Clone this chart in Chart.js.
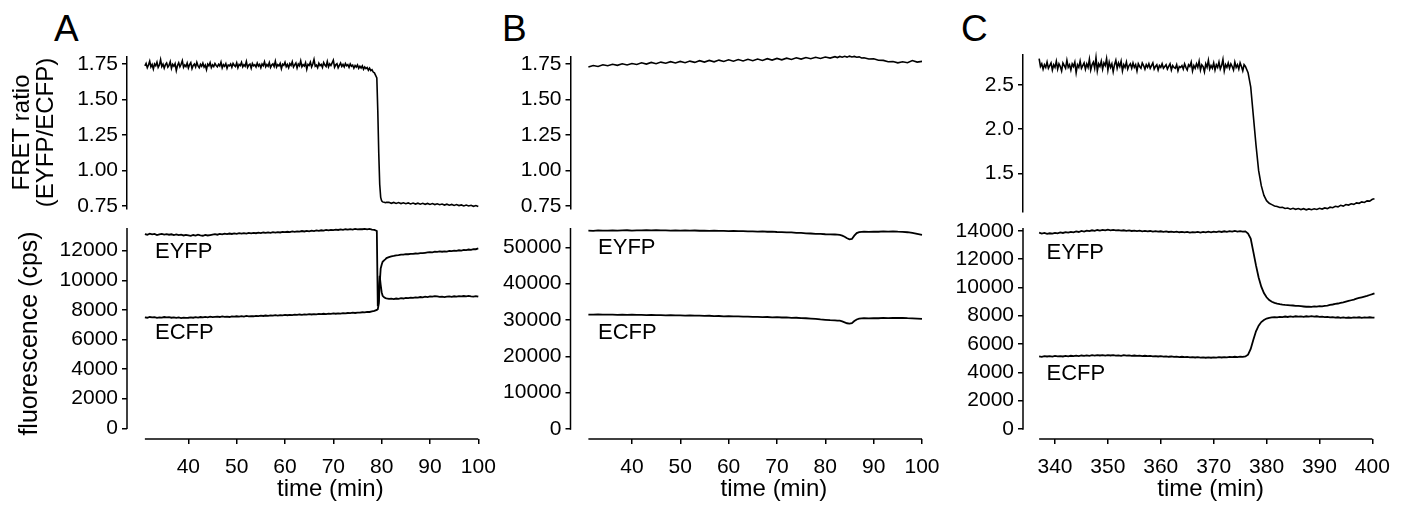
<!DOCTYPE html>
<html>
<head>
<meta charset="utf-8">
<script src="https://cdn.jsdelivr.net/npm/chart.js@4.4.0/dist/chart.umd.min.js"></script>
<style>
body{margin:0;background:#fff;width:1405px;height:506px;position:relative;overflow:hidden;font-family:"Liberation Sans",Arial,sans-serif}
canvas{position:absolute}
.panel{position:absolute;font-size:37px;line-height:37px;color:#000}
</style>
</head>
<body>
<div class="panel" style="left:54px;top:10px">A</div>
<div class="panel" style="left:502px;top:10px">B</div>
<div class="panel" style="left:961px;top:10px">C</div>

<canvas id="aTop" width="500" height="175" style="left:0px;top:45px"></canvas>
<canvas id="aBot" width="500" height="291" style="left:0px;top:215px"></canvas>
<canvas id="bTop" width="464" height="175" style="left:480px;top:45px"></canvas>
<canvas id="bBot" width="464" height="291" style="left:480px;top:215px"></canvas>
<canvas id="cTop" width="465" height="175" style="left:940px;top:45px"></canvas>
<canvas id="cBot" width="465" height="291" style="left:940px;top:215px"></canvas>

<script>
// panel A, FRET ratio (time in min)
var tRatioA=[31,31.25,31.5,31.75,32,32.25,32.5,32.75,33,33.25,33.5,33.75,
34,34.25,34.5,34.75,35,35.25,35.5,35.75,36,36.25,36.5,36.75,
37,37.25,37.5,37.75,38,38.25,38.5,38.75,39,39.25,39.5,39.75,
40,40.25,40.5,40.75,41,41.25,41.5,41.75,42,42.25,42.5,42.75,
43,43.25,43.5,43.75,44,44.25,44.5,44.75,45,45.25,45.5,45.75,
46,46.25,46.5,46.75,47,47.25,47.5,47.75,48,48.25,48.5,48.75,
49,49.25,49.5,49.75,50,50.25,50.5,50.75,51,51.25,51.5,51.75,
52,52.25,52.5,52.75,53,53.25,53.5,53.75,54,54.25,54.5,54.75,
55,55.25,55.5,55.75,56,56.25,56.5,56.75,57,57.25,57.5,57.75,
58,58.25,58.5,58.75,59,59.25,59.5,59.75,60,60.25,60.5,60.75,
61,61.25,61.5,61.75,62,62.25,62.5,62.75,63,63.25,63.5,63.75,
64,64.25,64.5,64.75,65,65.25,65.5,65.75,66,66.25,66.5,66.75,
67,67.25,67.5,67.75,68,68.25,68.5,68.75,69,69.25,69.5,69.75,
70,70.25,70.5,70.75,71,71.25,71.5,71.75,72,72.25,72.5,72.75,
73,73.25,73.5,73.75,74,74.25,74.5,74.75,75,75.25,75.5,75.75,
76,76.25,76.5,76.75,77,77.25,77.5,77.75,78,78.25,78.5,78.75,
79,79.2,79.4,79.6,79.8,80,80.2,80.5,80.8,81,
81.5,82,82.5,83,83.5,84,84.5,85,85.5,86,
86.5,87,87.5,88,88.5,89,89.5,90,90.5,91,
91.5,92,92.5,93,93.5,94,94.5,95,95.5,96,
96.5,97,97.5,98,98.5,99,99.5,100]
var ratioA=[1.735,1.752,1.722,1.741,1.768,1.728,1.745,1.713,1.749,1.737,1.762,1.724,
1.741,1.779,1.731,1.748,1.719,1.744,1.756,1.727,1.739,1.765,1.718,1.746,
1.733,1.751,1.702,1.738,1.757,1.729,1.747,1.772,1.725,1.742,1.731,1.755,
1.721,1.744,1.758,1.716,1.739,1.749,1.728,1.761,1.735,1.722,1.746,1.733,
1.754,1.727,1.741,1.709,1.748,1.736,1.758,1.724,1.743,1.731,1.752,1.738,
1.729,1.747,1.735,1.762,1.721,1.744,1.733,1.751,1.718,1.742,1.736,1.749,
1.726,1.753,1.739,1.731,1.757,1.722,1.745,1.737,1.76,1.728,1.744,1.733,
1.766,1.725,1.741,1.748,1.719,1.752,1.736,1.743,1.728,1.755,1.734,1.746,
1.722,1.749,1.737,1.764,1.729,1.745,1.733,1.758,1.724,1.741,1.75,1.731,
1.768,1.727,1.744,1.735,1.753,1.716,1.747,1.739,1.761,1.73,1.745,1.722,
1.751,1.738,1.764,1.727,1.743,1.756,1.721,1.748,1.736,1.771,1.729,1.744,
1.735,1.758,1.712,1.746,1.739,1.762,1.728,1.749,1.781,1.733,1.741,1.723,
1.754,1.737,1.746,1.725,1.759,1.741,1.731,1.766,1.728,1.749,1.738,1.757,
1.776,1.726,1.743,1.751,1.722,1.739,1.755,1.731,1.745,1.728,1.752,1.736,
1.744,1.725,1.749,1.733,1.741,1.719,1.738,1.727,1.742,1.718,1.733,1.721,
1.735,1.712,1.728,1.716,1.724,1.705,1.719,1.702,1.708,1.692,1.686,1.668,
1.65,1.42,1.12,0.90,0.81,0.785,0.778,0.775,0.772,0.775,
0.776,0.768,0.774,0.767,0.773,0.766,0.772,0.765,0.771,0.764,
0.770,0.763,0.769,0.762,0.768,0.761,0.767,0.760,0.766,0.759,
0.765,0.758,0.763,0.756,0.762,0.755,0.760,0.753,0.759,0.752,
0.757,0.750,0.756,0.749,0.754,0.747,0.752,0.745]

// panel A, fluorescence (cps)
var tA=[31,31.5,32,32.5,33,33.5,34,34.5,35,35.5,
36,36.5,37,37.5,38,38.5,39,39.5,40,40.5,
41,41.5,42,42.5,43,43.5,44,44.5,45,45.5,
46,46.5,47,47.5,48,48.5,49,49.5,50,50.5,
51,51.5,52,52.5,53,53.5,54,54.5,55,55.5,
56,56.5,57,57.5,58,58.5,59,59.5,60,60.5,
61,61.5,62,62.5,63,63.5,64,64.5,65,65.5,
66,66.5,67,67.5,68,68.5,69,69.5,70,70.5,
71,71.5,72,72.5,73,73.5,74,74.5,75,75.5,
76,76.5,77,77.5,78,78.5,79,
79.2,79.4,79.6,79.8,80,80.2,80.5,80.8,81,
81.5,82,82.5,83,83.5,84,84.5,85,85.5,86,
86.5,87,87.5,88,88.5,89,89.5,90,90.5,91,
91.5,92,92.5,93,93.5,94,94.5,95,95.5,96,
96.5,97,97.5,98,98.5,99,99.5,100]
var eyfpA=[13120,13080,13150,13100,13130,13060,13110,13140,13090,13120,
13080,13110,13060,13100,13050,13080,13030,13070,13040,13000,
13060,13020,13080,13040,13010,13070,13030,13060,13090,13120,
13080,13130,13100,13150,13120,13160,13130,13170,13140,13180,
13150,13190,13160,13200,13170,13210,13180,13220,13190,13230,
13200,13240,13210,13250,13220,13260,13230,13270,13250,13280,
13260,13300,13270,13310,13290,13330,13300,13340,13310,13350,
13330,13370,13340,13380,13360,13400,13370,13410,13390,13420,
13400,13440,13410,13450,13420,13460,13430,13470,13440,13460,
13450,13480,13440,13470,13430,13400,13330,
8250,8600,10300,9700,9200,8950,8850,8800,8780,
8740,8760,8730,8770,8750,8790,8770,8810,8790,8830,
8810,8850,8830,8870,8850,8890,8870,8910,8900,8930,
8910,8880,8900,8870,8890,8910,8880,8920,8900,8930,
8910,8940,8920,8950,8920,8900,8930,8890]
var ecfpA=[7500,7470,7520,7490,7510,7460,7500,7480,7520,7490,
7510,7470,7500,7460,7490,7450,7480,7460,7470,7500,
7470,7510,7480,7520,7490,7530,7500,7540,7510,7530,
7550,7520,7560,7530,7550,7520,7560,7540,7570,7550,
7580,7550,7590,7560,7580,7570,7600,7580,7610,7590,
7620,7600,7630,7610,7640,7620,7650,7630,7660,7640,
7670,7650,7680,7660,7690,7670,7700,7680,7710,7690,
7720,7700,7730,7710,7740,7720,7750,7730,7760,7740,
7770,7750,7780,7760,7790,7780,7810,7790,7820,7810,
7840,7830,7870,7860,7900,7930,8000,
8050,8400,9800,10800,11050,11250,11350,11430,11500,
11560,11620,11650,11690,11700,11740,11730,11770,11760,11790,
11780,11810,11800,11840,11830,11860,11880,11900,11890,11930,
11920,11950,11930,11960,11940,11980,11970,12000,11990,12030,
12010,12050,12040,12080,12060,12110,12100,12150]

// panel B
var tB=[31,32,33,34,35,36,37,38,39,40,
41,42,43,44,45,46,47,48,49,50,
51,52,53,54,55,56,57,58,59,60,
61,62,63,64,65,66,67,68,69,70,
71,72,73,74,75,76,77,78,79,80,
81,82,82.5,83,83.5,84,84.5,85,85.5,86,
86.5,87,87.5,88,89,90,91,92,93,94,
95,96,97,98,99,100]
var ratioB=[1.728,1.738,1.731,1.743,1.736,1.747,1.739,1.750,1.742,1.752,
1.745,1.757,1.748,1.760,1.751,1.762,1.754,1.765,1.756,1.767,
1.758,1.769,1.760,1.772,1.762,1.774,1.764,1.776,1.766,1.778,
1.768,1.780,1.770,1.782,1.772,1.784,1.774,1.786,1.776,1.788,
1.778,1.790,1.781,1.792,1.783,1.794,1.786,1.796,1.788,1.798,
1.790,1.800,1.794,1.802,1.796,1.803,1.797,1.804,1.798,1.802,
1.796,1.799,1.791,1.793,1.784,1.786,1.775,1.774,1.764,1.766,
1.757,1.764,1.758,1.773,1.762,1.767]
var eyfpB=[54600,54550,54650,54580,54620,54680,54600,54650,54700,54620,
54680,54640,54700,54660,54720,54650,54680,54620,54660,54600,
54640,54580,54620,54560,54600,54540,54580,54500,54540,54480,
54500,54440,54460,54380,54400,54340,54360,54280,54300,54220,
54200,54120,54100,53980,53950,53850,53800,53700,53720,53600,
53560,53520,53480,53400,53200,52900,52500,52200,52300,53200,
53900,54150,54250,54300,54250,54320,54280,54380,54340,54400,
54300,54250,54150,53950,53700,53450]
var ecfpB=[31500,31470,31520,31480,31450,31500,31430,31470,31400,31440,
31380,31420,31350,31390,31320,31360,31290,31330,31250,31280,
31220,31250,31180,31200,31140,31160,31080,31100,31020,31050,
30980,31000,30920,30940,30860,30880,30800,30820,30740,30760,
30680,30700,30600,30620,30500,30480,30380,30300,30150,30050,
29950,29900,29850,29800,29600,29350,29100,29000,29150,29700,
30150,30400,30450,30500,30450,30520,30480,30560,30520,30600,
30550,30580,30500,30450,30380,30300]

// panel C, FRET ratio
var tRatioC=[337,337.25,337.5,337.75,338,338.25,338.5,338.75,339,339.25,339.5,339.75,
340,340.25,340.5,340.75,341,341.25,341.5,341.75,342,342.25,342.5,342.75,
343,343.25,343.5,343.75,344,344.25,344.5,344.75,345,345.25,345.5,345.75,
346,346.25,346.5,346.75,347,347.25,347.5,347.75,348,348.25,348.5,348.75,
349,349.25,349.5,349.75,350,350.25,350.5,350.75,351,351.25,351.5,351.75,
352,352.25,352.5,352.75,353,353.25,353.5,353.75,354,354.25,354.5,354.75,
355,355.25,355.5,355.75,356,356.25,356.5,356.75,357,357.25,357.5,357.75,
358,358.25,358.5,358.75,359,359.25,359.5,359.75,360,360.25,360.5,360.75,
361,361.25,361.5,361.75,362,362.25,362.5,362.75,363,363.25,363.5,363.75,
364,364.25,364.5,364.75,365,365.25,365.5,365.75,366,366.25,366.5,366.75,
367,367.25,367.5,367.75,368,368.25,368.5,368.75,369,369.25,369.5,369.75,
370,370.25,370.5,370.75,371,371.25,371.5,371.75,372,372.25,372.5,372.75,
373,373.25,373.5,373.75,374,374.25,374.5,374.75,375,375.25,375.5,375.75,
376,376.5,377,377.5,378,378.5,379,379.5,380,380.5,381,381.5,
382,382.5,383,383.5,384,384.5,385,385.5,386,386.5,
387,387.5,388,388.5,389,389.5,390,390.5,391,391.5,
392,392.5,393,393.5,394,394.5,395,395.5,396,396.5,
397,397.5,398,398.5,399,399.5,400,400.4]
var ratioC=[2.80,2.71,2.74,2.68,2.73,2.70,2.76,2.69,2.72,2.75,2.67,2.73,
2.70,2.77,2.68,2.74,2.71,2.66,2.75,2.72,2.69,2.78,2.70,2.73,
2.67,2.74,2.71,2.76,2.64,2.73,2.70,2.77,2.69,2.72,2.75,2.68,
2.74,2.70,2.79,2.67,2.73,2.76,2.69,2.81,2.66,2.74,2.71,2.77,
2.68,2.75,2.72,2.80,2.67,2.76,2.70,2.74,2.65,2.73,2.78,2.69,
2.75,2.71,2.77,2.66,2.73,2.70,2.76,2.68,2.72,2.74,2.69,2.75,
2.70,2.73,2.66,2.74,2.71,2.69,2.75,2.72,2.68,2.73,2.70,2.74,
2.69,2.72,2.75,2.68,2.71,2.73,2.67,2.72,2.70,2.74,2.69,2.71,
2.73,2.68,2.71,2.74,2.67,2.72,2.70,2.69,2.73,2.66,2.71,2.70,
2.72,2.68,2.74,2.70,2.67,2.73,2.71,2.76,2.66,2.72,2.69,2.74,
2.70,2.77,2.67,2.73,2.71,2.65,2.74,2.70,2.78,2.68,2.72,2.69,
2.75,2.67,2.73,2.70,2.76,2.68,2.72,2.79,2.66,2.73,2.70,2.75,
2.69,2.74,2.71,2.67,2.76,2.70,2.73,2.68,2.75,2.71,2.66,2.73,
2.71,2.64,2.48,2.15,1.82,1.53,1.36,1.25,1.19,1.16,1.145,1.13,
1.125,1.112,1.114,1.102,1.106,1.094,1.104,1.092,1.101,1.089,
1.099,1.086,1.097,1.087,1.098,1.09,1.104,1.095,1.108,1.1,
1.116,1.11,1.126,1.12,1.137,1.128,1.146,1.14,1.155,1.148,
1.165,1.16,1.176,1.17,1.188,1.185,1.205,1.212]

// panel C, fluorescence
var tC=[337,337.5,338,338.5,339,339.5,340,340.5,341,341.5,
342,342.5,343,343.5,344,344.5,345,345.5,346,346.5,
347,347.5,348,348.5,349,349.5,350,350.5,351,351.5,
352,352.5,353,353.5,354,354.5,355,355.5,356,356.5,
357,357.5,358,358.5,359,359.5,360,360.5,361,361.5,
362,362.5,363,363.5,364,364.5,365,365.5,366,366.5,
367,367.5,368,368.5,369,369.5,370,370.5,371,371.5,
372,372.5,373,373.5,374,374.5,375,375.5,376,376.5,
377,377.5,378,378.5,379,379.5,380,380.5,381,381.5,
382,382.5,383,383.5,384,384.5,385,385.5,386,386.5,
387,387.5,388,388.5,389,389.5,390,390.5,391,391.5,
392,392.5,393,393.5,394,394.5,395,395.5,396,396.5,
397,397.5,398,398.5,399,399.5,400,400.4]
var eyfpC=[13860,13800,13840,13780,13820,13790,13850,13810,13880,13840,
13900,13860,13920,13880,13950,13910,13980,13940,14010,13970,
14030,13990,14050,14010,14060,14020,14070,14030,14060,14020,
14040,14000,14030,13990,14020,13980,14010,13970,14000,13960,
13990,13950,13980,13940,13970,13930,13960,13920,13950,13910,
13940,13900,13930,13890,13920,13880,13910,13870,13900,13880,
13910,13870,13920,13880,13930,13890,13940,13900,13950,13910,
13960,13920,13970,13930,13980,13940,13970,13930,13950,13800,
13450,12500,11550,10700,10050,9600,9300,9100,8980,8900,
8850,8810,8780,8760,8750,8730,8720,8700,8690,8670,
8650,8630,8640,8620,8650,8640,8670,8660,8700,8710,
8760,8790,8830,8860,8900,8940,8990,9040,9090,9140,
9200,9250,9300,9350,9400,9460,9520,9580]
var ecfpC=[5130,5100,5150,5120,5140,5110,5160,5130,5150,5120,
5160,5130,5170,5140,5180,5150,5190,5160,5200,5170,
5210,5180,5220,5190,5210,5180,5220,5190,5210,5180,
5200,5170,5210,5180,5200,5170,5190,5160,5180,5150,
5170,5140,5160,5130,5150,5120,5140,5110,5130,5100,
5120,5090,5110,5080,5100,5070,5090,5060,5080,5050,
5070,5040,5060,5030,5050,5030,5060,5040,5070,5050,
5080,5060,5090,5070,5100,5080,5110,5090,5120,5250,
5650,6300,6900,7300,7550,7700,7800,7850,7880,7900,
7880,7920,7900,7940,7910,7950,7920,7960,7930,7950,
7920,7960,7930,7970,7940,7960,7920,7940,7900,7920,
7880,7900,7860,7890,7850,7880,7840,7870,7850,7880,
7860,7890,7850,7880,7860,7890,7870,7860]

// tick values
var ratioTicksAB=[0.75,1,1.25,1.5,1.75]
var ratioTicksC=[1.5,2,2.5]
var fluoTicksA=[0,2000,4000,6000,8000,10000,12000]
var fluoTicksB=[0,10000,20000,30000,40000,50000]
var fluoTicksC=[0,2000,4000,6000,8000,10000,12000,14000]
var timeTicksAB=[40,50,60,70,80,90,100]
var timeTicksC=[340,350,360,370,380,390,400]

var FONT='"Liberation Sans", Arial, Helvetica, sans-serif'

function pts(t,v){
    return t.map(function(x,i){ return {x:x,y:v[i]} })
}

var axisLines={
    id:'axisLines',
    afterDraw:function(chart,args,o){
        var ctx=chart.ctx, area=chart.chartArea
        var xs=chart.scales.x, ys=chart.scales.y
        ctx.save()
        ctx.strokeStyle='#000'
        ctx.fillStyle='#000'
        ctx.lineWidth=1.5
        if(o.yTo!==undefined){
            ctx.beginPath()
            ctx.moveTo(area.left,area.top)
            ctx.lineTo(area.left,ys.getPixelForValue(o.yTo)+0.75)
            ctx.stroke()
        }
        if(o.xFrom!==undefined){
            ctx.beginPath()
            ctx.moveTo(xs.getPixelForValue(o.xFrom),area.bottom)
            ctx.lineTo(xs.getPixelForValue(o.xTo),area.bottom)
            ctx.stroke()
            var tk=xs.ticks
            var cx=(xs.getPixelForValue(tk[0].value)+xs.getPixelForValue(tk[tk.length-1].value))/2
            ctx.font='24px '+FONT
            ctx.textAlign='center'
            ctx.textBaseline='middle'
            ctx.fillText(o.xTitle,cx-3,area.bottom+o.xTitleGap)
        }
        if(o.labels){
            ctx.font='22px '+FONT
            ctx.textAlign='left'
            ctx.textBaseline='middle'
            o.labels.forEach(function(l){
                ctx.fillText(l.text,xs.getPixelForValue(l.x),ys.getPixelForValue(l.y))
            })
        }
        ctx.restore()
    }
}

function yScale(min,max,ticks,width,fmt,border,title){
    var s={
        min:min,max:max,
        border:{display:border,color:'#000',width:1.5},
        grid:{drawOnChartArea:false,color:'#000',lineWidth:1.5,tickLength:5},
        ticks:{color:'#000',font:{family:FONT,size:21},padding:4,autoSkip:false,callback:fmt},
        afterBuildTicks:function(sc){ sc.ticks=ticks.map(function(v){return {value:v}}) },
        afterFit:function(sc){ sc.width=width; sc.paddingTop=0; sc.paddingBottom=0 }
    }
    if(title) s.title=title
    return s
}

function line(t,v,w){
    return {data:pts(t,v),borderColor:'#000',borderWidth:w,pointRadius:0,tension:0,clip:false}
}

function makeTop(id,t,v,xmin,xmax,ymin,ymax,ticks,width,fmt,pad,title){
    return new Chart(document.getElementById(id),{
        type:'line',
        data:{datasets:[line(t,v,1.6)]},
        options:{
            responsive:false,animation:false,
            layout:{padding:pad},
            plugins:{legend:{display:false},tooltip:{enabled:false},axisLines:{}},
            scales:{
                x:{type:'linear',min:xmin,max:xmax,display:false},
                y:yScale(ymin,ymax,ticks,width,fmt,true,title)
            }
        },
        plugins:[axisLines]
    })
}

function makeBottom(id,t,top,low,xmin,xmax,ymin,ymax,yticks,xticks,width,pad,labels,title){
    return new Chart(document.getElementById(id),{
        type:'line',
        data:{datasets:[line(t,top,1.8),line(t,low,1.8)]},
        options:{
            responsive:false,animation:false,
            layout:{padding:pad},
            plugins:{legend:{display:false},tooltip:{enabled:false},
                axisLines:{yTo:0,xFrom:t[0],xTo:xticks[xticks.length-1],xTitle:'time (min)',xTitleGap:50,labels:labels}},
            scales:{
                x:{type:'linear',min:xmin,max:xmax,
                    border:{display:false},
                    grid:{drawOnChartArea:false,color:'#000',lineWidth:1.5,tickLength:5},
                    ticks:{color:'#000',font:{family:FONT,size:21},padding:11,autoSkip:false,maxRotation:0,
                        callback:function(v){return String(v)}},
                    afterBuildTicks:function(sc){ sc.ticks=xticks.map(function(v){return {value:v}}) },
                    afterFit:function(sc){ sc.height=67; sc.paddingLeft=0; sc.paddingRight=0 }
                },
                y:yScale(ymin,ymax,yticks,width,function(v){return String(v)},false,title)
            }
        },
        plugins:[axisLines]
    })
}

var f2=function(v){return v.toFixed(2)}
var f1=function(v){return v.toFixed(1)}

makeTop('aTop',tRatioA,ratioA,27.3,100,0.733,1.80,ratioTicksAB,127,f2,{left:0,top:11.7,right:21.7,bottom:11.7},
    {display:true,text:['FRET ratio','(EYFP/ECFP)'],color:'#000',font:{family:FONT,size:24,lineHeight:1.0},padding:{top:10,bottom:0}})
makeTop('bTop',tB,ratioB,27.3,100,0.733,1.80,ratioTicksAB,90.5,f2,{left:0,top:11.7,right:22,bottom:11.7})
makeTop('cTop',tRatioC,ratioC,333.95,400.5,1.065,2.84,ratioTicksC,83,f1,{left:0,top:10,right:30,bottom:8.3})

makeBottom('aBot',tA,eyfpA,ecfpA,27.3,100,-723,13534,fluoTicksA,timeTicksAB,127,{left:0,top:13,right:21.7,bottom:0},
    [{text:'EYFP',x:33.1,y:11900},{text:'ECFP',x:33.1,y:6440}],
    {display:true,text:'fluorescence (cps)',color:'#000',font:{family:FONT,size:25,lineHeight:1.0},padding:{top:18,bottom:0}})
makeBottom('bBot',tB,eyfpB,ecfpB,27.3,100,-2752,55315,fluoTicksB,timeTicksAB,90.5,{left:0,top:13,right:22,bottom:0},
    [{text:'EYFP',x:33.0,y:49860},{text:'ECFP',x:33.0,y:26370}])
makeBottom('cBot',tC,eyfpC,ecfpC,333.95,400.5,-706,14191,fluoTicksC,timeTicksC,83,{left:0,top:13,right:30,bottom:0},
    [{text:'EYFP',x:338.4,y:12460},{text:'ECFP',x:338.4,y:3880}])
</script>
</body>
</html>
